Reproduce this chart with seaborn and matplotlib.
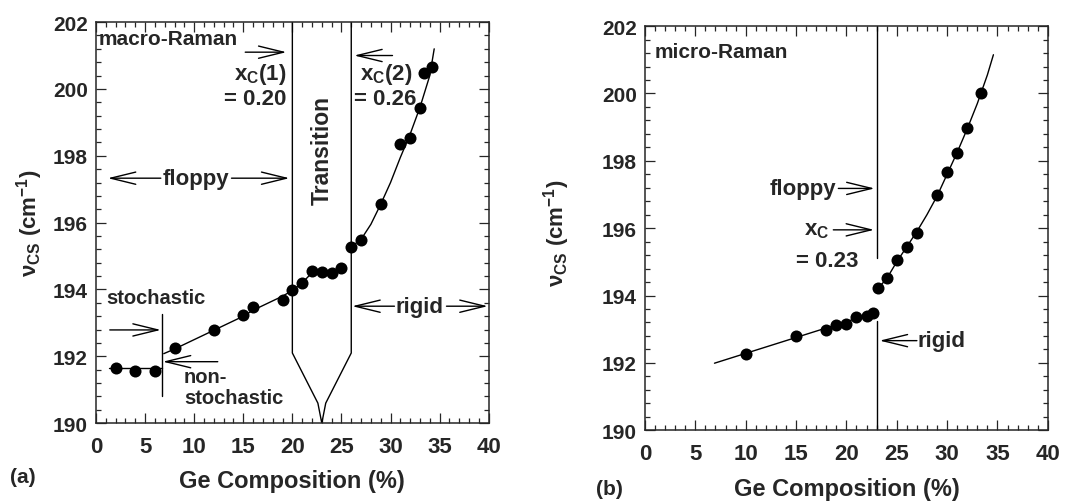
import numpy as np
import pandas as pd
import matplotlib
matplotlib.use("Agg")
import matplotlib.pyplot as plt
from matplotlib.ticker import MultipleLocator
import seaborn as sns

# panel (a): macro-Raman data
a_x = [2, 4, 6, 8, 12, 15, 16, 19, 20, 21, 22, 23, 24, 25, 26, 27, 29, 31, 32, 33, 33.4, 34.2]
a_y = [191.65, 191.55, 191.57, 192.25, 192.8, 193.23, 193.48, 193.7, 193.98, 194.2, 194.55,
       194.52, 194.5, 194.63, 195.28, 195.49, 196.56, 198.35, 198.53, 199.42, 200.48, 200.66]
# fitted lines
a_fit1_x = [1.3, 6.7]
a_fit1_y = [191.66, 191.66]
a_fit2_x = [6.9, 8, 12, 15, 16, 19, 20, 21, 22, 23, 24, 25]
a_fit2_y = [192.08, 192.22, 192.78, 193.2, 193.38, 193.8, 193.97, 194.2, 194.5, 194.5, 194.5, 194.6]
a_fit3_x = [26, 27, 28, 29, 30, 31, 32, 33, 34, 34.45]
a_fit3_y = [195.28, 195.5, 195.95, 196.55, 197.2, 197.95, 198.65, 199.45, 200.4, 201.2]
# transition boundaries (V shape)
a_trans_x = [20, 20, 22.6, 23, 23.4, 26, 26]
a_trans_y = [202, 192.1, 190.6, 190.0, 190.6, 192.1, 202]

# panel (b): micro-Raman data
b_x = [10, 15, 18, 19, 20, 21, 22, 22.6, 23.1, 24, 25, 26, 27, 29, 30, 31, 32, 33.4]
b_y = [192.25, 192.8, 192.98, 193.12, 193.15, 193.37, 193.4, 193.47, 194.22, 194.51,
       195.04, 195.45, 195.87, 196.98, 197.67, 198.24, 198.97, 200.0]
b_fit1_x = [6.9, 22.6]
b_fit1_y = [191.99, 193.47]
b_fit2_x = [23.1, 24, 25, 26, 27, 28, 29, 30, 31, 32, 33, 34, 34.6]
b_fit2_y = [194.2, 194.5, 195.0, 195.45, 195.9, 196.4, 196.95, 197.6, 198.25, 198.95, 199.7, 200.55, 201.15]

sns.set_style("ticks")
fam = "Liberation Sans"
plt.rcParams['font.family'] = [fam, 'DejaVu Sans']
plt.rcParams['font.weight'] = 'bold'
plt.rcParams['mathtext.fontset'] = 'custom'
plt.rcParams['mathtext.rm'] = fam + ':bold'
plt.rcParams['mathtext.bf'] = fam + ':bold'
plt.rcParams['mathtext.it'] = fam + ':bold'

fig = plt.figure(figsize=(10.67, 5.02), dpi=100)
ax1 = fig.add_axes([0.090, 0.155, 0.368, 0.799])
ax2 = fig.add_axes([0.6045, 0.141, 0.3775, 0.805])

dot = dict(color="black", s=75, edgecolor="black", linewidth=0, zorder=3, legend=False)
ln = dict(color="black", linewidth=1.0, sort=False, estimator=None, legend=False)

# ---- panel (a)
sns.scatterplot(x=a_x, y=a_y, ax=ax1, **dot)
for fx, fy in [(a_fit1_x, a_fit1_y), (a_fit2_x, a_fit2_y), (a_fit3_x, a_fit3_y), (a_trans_x, a_trans_y)]:
    sns.lineplot(x=fx, y=fy, ax=ax1, **ln)
ax1.plot([6.7, 6.7], [193.27, 190.81], color="black", linewidth=1.0)

# ---- panel (b)
sns.scatterplot(x=b_x, y=b_y, ax=ax2, **dot)
for fx, fy in [(b_fit1_x, b_fit1_y), (b_fit2_x, b_fit2_y)]:
    sns.lineplot(x=fx, y=fy, ax=ax2, **ln)
ax2.plot([23, 23], [202, 195.1], color="black", linewidth=1.0)
ax2.plot([23, 23], [193.25, 190], color="black", linewidth=1.0)

for ax in (ax1, ax2):
    ax.set_xlim(0, 40)
    ax.set_ylim(190, 202)
    ax.xaxis.set_major_locator(MultipleLocator(5))
    ax.xaxis.set_minor_locator(MultipleLocator(1))
    ax.yaxis.set_major_locator(MultipleLocator(2))
    ax.yaxis.set_minor_locator(MultipleLocator(0.4))
    ax.tick_params(which="both", direction="in", top=True, right=True, width=0.9)
    ax.tick_params(axis="x", labelsize=16, pad=9)
    ax.tick_params(axis="y", labelsize=15, pad=6)
    ax.tick_params(which="major", length=7)
    ax.tick_params(which="minor", length=3.5)
    for s in ax.spines.values():
        s.set_linewidth(1.1)
    for t in ax.get_xticklabels() + ax.get_yticklabels():
        t.set_fontweight("bold")
    ax.set_ylabel(r"ν$_{\mathbf{CS}}$ (cm$^{\mathbf{-1}}$)", fontsize=16, fontweight="bold")

ax1.set_xlabel("Ge Composition (%)", fontsize=17, fontweight="bold", labelpad=9)
ax2.set_xlabel("Ge Composition (%)", fontsize=17, fontweight="bold", labelpad=9.5)
ax1.yaxis.set_label_coords(-0.13, 0.5)
ax2.yaxis.set_label_coords(-0.18, 0.49)

arw = dict(arrowstyle="->,head_length=0.9,head_width=0.22", color="black", lw=1.0,
           shrinkA=0, shrinkB=0, mutation_scale=20)
tk = dict(fontsize=14.5, fontweight="bold")
big = dict(fontsize=16, fontweight="bold")

def arrow(ax, x0, y0, x1, y1):
    ax.annotate("", xy=(x1, y1), xytext=(x0, y0), arrowprops=arw)

# annotations (a)
ax1.text(0.3, 201.5, "macro-Raman", ha="left", va="center", fontsize=15, fontweight="bold")
arrow(ax1, 15.2, 201.1, 19.4, 201.1)
ax1.text(19.4, 200.45, r"x$_{\mathbf{C}}$(1)", ha="right", va="center", **big)
ax1.text(19.4, 199.72, "= 0.20", ha="right", va="center", **big)
arrow(ax1, 30.2, 201.0, 26.3, 201.0)
ax1.text(26.9, 200.45, r"x$_{\mathbf{C}}$(2)", ha="left", va="center", **big)
ax1.text(26.3, 199.72, "= 0.26", ha="left", va="center", **big)
ax1.text(23, 198.2, "Transition", rotation=90, ha="center", va="center", fontsize=16.5, fontweight="bold")
ax1.text(10.2, 197.33, "floppy", ha="center", va="center", **big)
arrow(ax1, 6.6, 197.33, 1.2, 197.33)
arrow(ax1, 13.8, 197.33, 19.7, 197.33)
ax1.text(1.0, 193.75, "stochastic", ha="left", va="center", **tk)
arrow(ax1, 1.4, 192.79, 6.6, 192.79)
arrow(ax1, 12.4, 191.84, 6.8, 191.84)
ax1.text(8.95, 191.39, "non-", ha="left", va="center", **tk)
ax1.text(8.95, 190.78, "stochastic", ha="left", va="center", **tk)
ax1.text(33, 193.5, "rigid", ha="center", va="center", **big)
arrow(ax1, 30.4, 193.5, 26.1, 193.5)
arrow(ax1, 35.7, 193.5, 39.9, 193.5)

# annotations (b)
ax2.text(0.96, 201.26, "micro-Raman", ha="left", va="center", fontsize=15, fontweight="bold")
ax2.text(19.0, 197.18, "floppy", ha="right", va="center", **big)
arrow(ax2, 19.2, 197.18, 22.8, 197.18)
ax2.text(18.3, 195.95, r"x$_{\mathbf{C}}$", ha="right", va="center", **big)
arrow(ax2, 18.7, 195.95, 22.75, 195.95)
ax2.text(18.1, 195.04, "= 0.23", ha="center", va="center", **big)
arrow(ax2, 27.0, 192.66, 23.3, 192.66)
ax2.text(27.1, 192.66, "rigid", ha="left", va="center", **big)

fig.text(23 / 1067, 1 - 478 / 502, "(a)", ha="center", va="center", fontsize=15, fontweight="bold")
fig.text(609 / 1067, 1 - 490 / 502, "(b)", ha="center", va="center", fontsize=15, fontweight="bold")

fig.savefig("out.png", dpi=100)
